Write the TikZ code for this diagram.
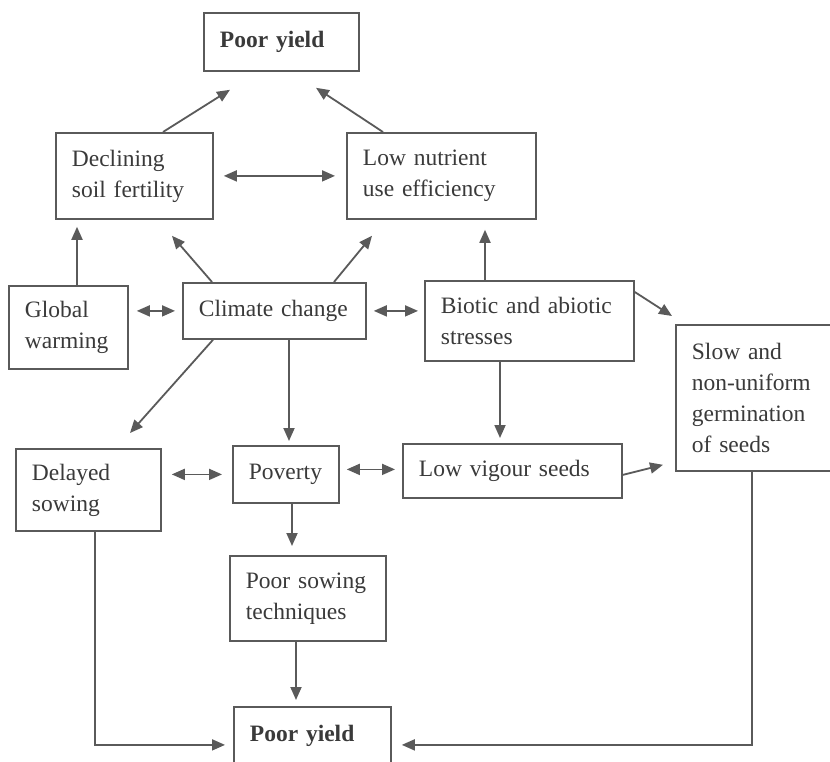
\documentclass[tikz,border=0pt]{standalone}
\usepackage{fontspec}
\setmainfont{Liberation Serif}
\usetikzlibrary{arrows.meta,calc}
\definecolor{ln}{HTML}{5A5A5A}
\definecolor{tx}{HTML}{3A3A3A}
\begin{document}
\begin{tikzpicture}[x=1pt,y=-1pt,
  box/.style={draw=ln, line width=1.8pt, anchor=north west, inner xsep=16pt, inner ysep=4pt,
    align=left, text=tx, font=\fontsize{23.5}{31}\selectfont},
  arr/.style={draw=ln, line width=1.8pt, -{Triangle[length=13pt,width=11pt]}},
  darr/.style={draw=ln, line width=1.8pt, {Triangle[length=13pt,width=11pt]}-{Triangle[length=13pt,width=11pt]}}]
\useasboundingbox (0,0) rectangle (830,762);
\fill[white] (0,0) rectangle (830,762);
% boxes
\node[box, text width=123pt, minimum height=58pt, font=\fontsize{23.5}{31}\selectfont\bfseries] (py1) at (203,12) {Poor yield};
\node[box, text width=125pt, minimum height=86pt] (decl) at (55,132) {Declining\\soil fertility};
\node[box, text width=157pt, minimum height=86pt] (lne) at (346,132) {Low nutrient\\use efficiency};
\node[box, text width=87pt, minimum height=83pt] (gw) at (8,285) {Global\\warming};
\node[box, text width=151pt, minimum height=56pt] (cc) at (182,282) {Climate change};
\node[box, text width=177pt, minimum height=80pt] (bio) at (424,280) {Biotic and abiotic\\stresses};
\node[box, text width=127pt, minimum height=146pt] (slow) at (675,324) {Slow and\\non-uniform\\germination\\of seeds};
\node[box, text width=113pt, minimum height=82pt] (dly) at (15,448) {Delayed\\sowing};
\node[box, text width=74pt, minimum height=57pt] (pov) at (232,445) {Poverty};
\node[box, text width=187pt, minimum height=54pt] (lvs) at (402,443) {Low vigour seeds};
\node[box, text width=124pt, minimum height=85pt] (psw) at (229,555) {Poor sowing\\techniques};
\node[box, text width=125pt, minimum height=58pt, font=\fontsize{23.5}{31}\selectfont\bfseries] (py2) at (233,706) {Poor yield};
% connectors
\draw[arr] ([xshift=108pt]decl.north west) -- ([xshift=27pt,yshift=-18pt]py1.south west);
\draw[arr] ([xshift=37pt]lne.north west) -- ([xshift=113pt,yshift=-16pt]py1.south west);
\draw[darr, shorten <=10pt, shorten >=11pt] (decl.east) -- (decl.east -| lne.west);
\draw[arr, shorten >=7pt] ([xshift=69pt]gw.north west) -- ([xshift=69pt]gw.north west |- decl.south);
\draw[arr] ([xshift=30pt]cc.north west) -- ([xshift=117pt,yshift=-16pt]decl.south west);
\draw[arr] ([xshift=152pt]cc.north west) -- ([xshift=26pt,yshift=-16pt]lne.south west);
\draw[darr, shorten <=8pt, shorten >=7pt] (gw.east |- cc.west) -- (cc.west);
\draw[darr, shorten <=7pt, shorten >=6pt] (cc.east) -- (cc.east -| bio.west);
\draw[arr, shorten >=10pt] ([xshift=61pt]bio.north west) -- ([xshift=61pt]bio.north west |- lne.south);
\draw[arr] ([yshift=-12pt]bio.north east) -- ([xshift=-3pt,yshift=8pt]slow.north west);
\draw[arr] ([xshift=31pt]cc.south west) -- ([xshift=115pt,yshift=15pt]dly.north west);
\draw[arr, shorten >=4pt] ([xshift=107pt]cc.south west) -- ([xshift=107pt]cc.south west |- pov.north);
\draw[darr, shorten <=10pt, shorten >=10pt] (pov.west -| dly.east) -- (pov.west);
\draw[darr, shorten <=7pt, shorten >=7pt] ([yshift=5pt]pov.east) -- ([yshift=5pt]pov.east -| lvs.west);
\draw[arr, shorten >=5pt] ([xshift=76pt]bio.south west) -- ([xshift=76pt]bio.south west |- lvs.north);
\draw[arr] ([yshift=-4pt]lvs.east) -- ([xshift=-12pt,yshift=7pt]slow.south west);
\draw[arr, shorten >=9pt] ([xshift=60pt]pov.south west) -- ([xshift=60pt]pov.south west |- psw.north);
\draw[arr, shorten >=6pt] ([xshift=67pt]psw.south west) -- ([xshift=67pt]psw.south west |- py2.north);
\draw[arr, shorten >=8pt] ([xshift=80pt]dly.south west) |- ([yshift=-9pt]py2.west);
\draw[arr, shorten >=10pt] ([xshift=77pt]slow.south west) |- ([yshift=-9pt]py2.east);
\end{tikzpicture}
\end{document}
